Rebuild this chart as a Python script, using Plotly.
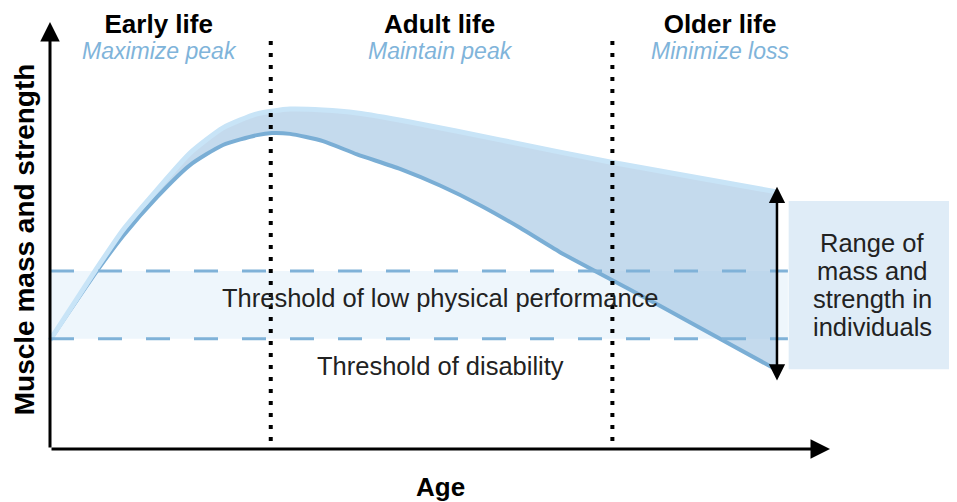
import plotly.graph_objects as go

# curve data, in arbitrary "age" (x) and "mass/strength" (y) units
age_upper = [0.0, 6.03, 9.36, 13.72, 17.95, 22.18, 26.54, 30.77, 35.0, 39.36, 46.15,
             57.69, 71.79, 93.21]
mass_upper = [25.5, 42.4, 51.3, 60.7, 69.3, 75.2, 78.5, 79.6, 79.4, 78.7, 76.6,
              72.4, 67.2, 60.2]

age_lower = [0.0, 6.03, 9.36, 13.72, 17.95, 22.18, 26.54, 28.46, 30.77, 35.0, 39.36,
             44.87, 50.0, 55.13, 60.26, 65.38, 73.97, 82.44, 93.21]
mass_lower = [25.5, 41.7, 49.9, 59.0, 66.5, 71.2, 73.5, 74.0, 73.8, 72.1, 69.0,
              65.6, 61.7, 57.1, 51.8, 46.1, 37.7, 29.3, 18.5]

threshold_low_perf = 41.7
threshold_disability = 25.8
band_end = 94.6

phase_bounds = [28.3, 72.1]
phase_labels = ["Early life", "Adult life", "Older life"]
phase_goals = ["Maximize peak", "Maintain peak", "Minimize loss"]
phase_centers = [14.1, 50.1, 86.0]

range_x = 93.2
range_top, range_bottom = 61.4, 15.7
box_lines = ["Range of", "mass and", "strength in", "individuals"]

# the page has an 8px body margin, so the figure is 8px smaller than the window
X_RANGE = [-5.385, 116.28]
Y_RANGE = [-12.41, 103.28]

LIGHT = "#c8e4f7"
DARK = "#7aaed5"
FILL = "rgba(160,196,226,0.62)"
DASH = "#80b2d8"
GOAL = "#80b4da"
FONT = "Liberation Sans"
SPLINE = dict(shape="spline", smoothing=0.6)

fig = go.Figure()

# shaded range between the two curves
fig.add_trace(go.Scatter(x=age_lower, y=mass_lower, mode="lines",
                         line=dict(width=0, **SPLINE), hoverinfo="skip"))
fig.add_trace(go.Scatter(x=age_upper, y=mass_upper, mode="lines", fill="tonexty",
                         fillcolor=FILL, line=dict(width=0, **SPLINE), hoverinfo="skip"))
# curve outlines
fig.add_trace(go.Scatter(x=age_lower, y=mass_lower, mode="lines",
                         line=dict(color=DARK, width=4, **SPLINE)))
fig.add_trace(go.Scatter(x=age_upper, y=mass_upper, mode="lines",
                         line=dict(color=LIGHT, width=5, **SPLINE)))

# threshold band + dashed lines
fig.add_shape(type="rect", x0=0, x1=band_end, y0=threshold_disability, y1=threshold_low_perf,
              fillcolor="#eef6fc", line_width=0, layer="below")
for yv in (threshold_low_perf, threshold_disability):
    fig.add_shape(type="line", x0=0, x1=band_end, y0=yv, y1=yv, layer="above",
                  line=dict(color=DASH, width=3, dash="24px,24px"))

# range box
fig.add_shape(type="rect", x0=94.7, x1=116.2, y0=18.7, y1=58.1,
              fillcolor="#dfecf7", line_width=0, layer="below")

# phase separators
for xb in phase_bounds:
    fig.add_shape(type="line", x0=xb, x1=xb, y0=1.9, y1=97.4, layer="above",
                  line=dict(color="black", width=4, dash="4px,8px"))

# axes with arrow heads
for tip_x, tip_y in ((100, 0), (0, 100)):
    fig.add_annotation(x=tip_x, y=tip_y, ax=0, ay=0, axref="x", ayref="y", text="",
                       showarrow=True, arrowhead=2, arrowsize=1.3, arrowwidth=3,
                       arrowcolor="black", standoff=0)
# range double arrow
fig.add_annotation(x=range_x, y=range_top, ax=range_x, ay=range_bottom, axref="x", ayref="y",
                   text="", showarrow=True, arrowhead=2, arrowside="end+start",
                   arrowsize=1.3, arrowwidth=2.5, arrowcolor="black",
                   standoff=0, startstandoff=0)

# phase headings: bold title + italic goal in one text block
for cx, lab, goal in zip(phase_centers, phase_labels, phase_goals):
    fig.add_annotation(
        x=cx, y=Y_RANGE[1], yanchor="top", showarrow=False, borderpad=0,
        text=(f"<span style='font-size:26px'><b>{lab}</b></span><br>"
              f"<span style='font-size:23px;color:{GOAL}'><i>{goal}</i></span>"),
        font=dict(family=FONT, size=20, color="black"),
    )

fig.add_annotation(x=50, y=35.4, text="Threshold of low physical performance", showarrow=False,
                   font=dict(family=FONT, size=25.5, color="#222222"))
fig.add_annotation(x=50, y=19.4, text="Threshold of disability", showarrow=False,
                   font=dict(family=FONT, size=25.5, color="#222222"))

for i, line in enumerate(box_lines):
    fig.add_annotation(x=105.4, y=48.3 - i * 6.6, text=line, showarrow=False,
                       font=dict(family=FONT, size=25.5, color="#222222"))

fig.add_annotation(x=50, y=-8.9, text="<b>Age</b>", showarrow=False,
                   font=dict(family=FONT, size=26, color="black"))
fig.add_annotation(x=X_RANGE[0], xanchor="left", y=49.0, borderpad=0,
                   text="<b>Muscle mass and strength</b>", showarrow=False,
                   textangle=-90, font=dict(family=FONT, size=28, color="black"))

fig.update_xaxes(range=X_RANGE, visible=False, showgrid=False, zeroline=False)
fig.update_yaxes(range=Y_RANGE, visible=False, showgrid=False, zeroline=False)
fig.update_layout(width=949, height=494, margin=dict(l=0, r=0, t=0, b=0),
                  plot_bgcolor="white", paper_bgcolor="white", showlegend=False)

fig.write_html("out.html")
